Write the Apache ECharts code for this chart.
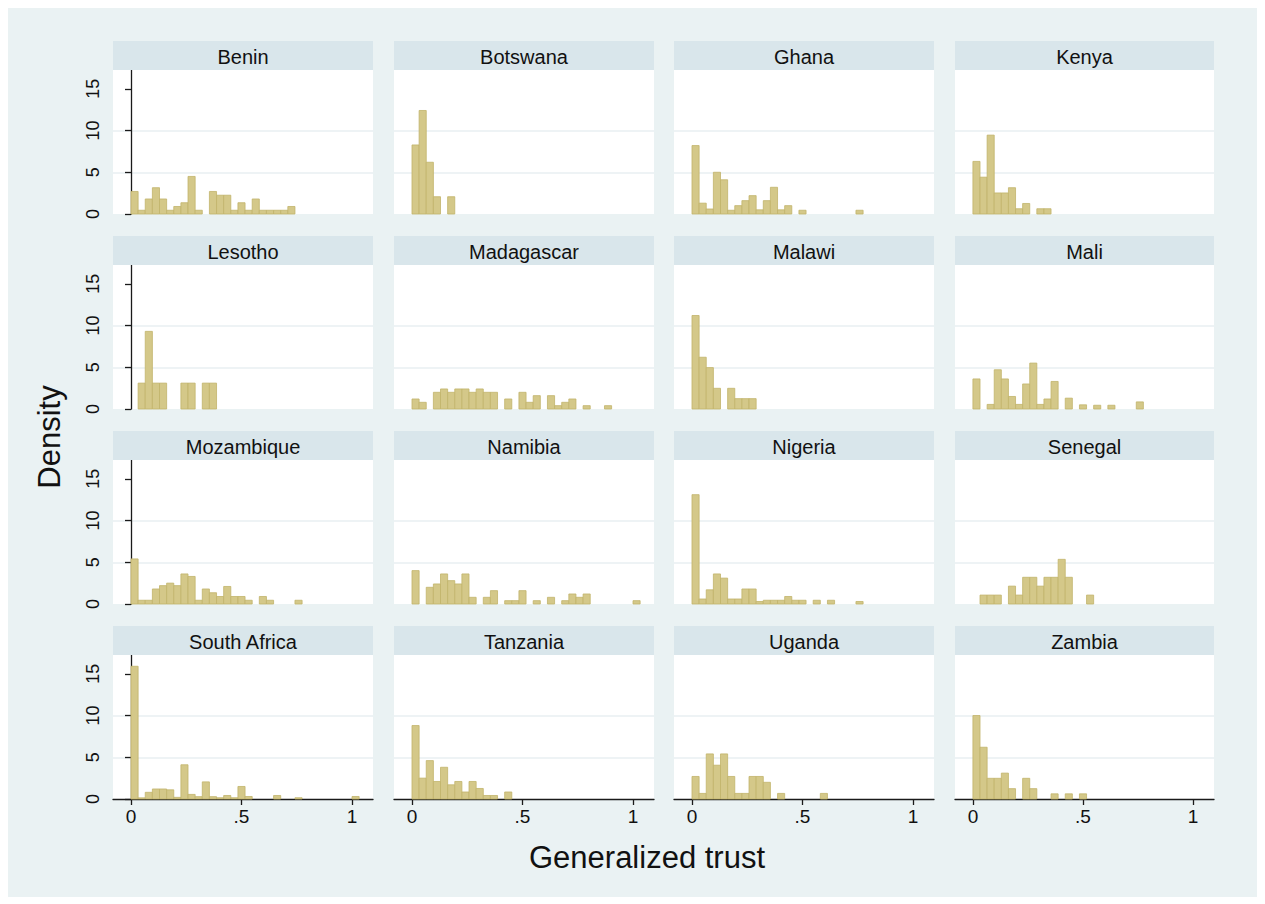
<!DOCTYPE html>
<html>
<head>
<meta charset="utf-8">
<script src="https://cdn.jsdelivr.net/npm/echarts@6/dist/echarts.min.js"></script>
<style>
html,body{margin:0;padding:0;background:#ffffff;}
#chart{width:1265px;height:904px;}
</style>
</head>
<body>
<div id="chart"></div>
<script>
// ---------------- DATA ----------------
// histogram bins: width 1/31, bin k spans [k/31, (k+1)/31]
const binWidth = 1 / 31;
const countries = ["Benin","Botswana","Ghana","Kenya","Lesotho","Madagascar","Malawi","Mali",
                   "Mozambique","Namibia","Nigeria","Senegal","South Africa","Tanzania","Uganda","Zambia"];
const benin       = [2.7,0.45,1.8,3.15,1.8,0.45,0.9,1.35,4.5,0.45,0,2.7,2.25,2.25,0.45,1.35,0.45,1.8,0.45,0.45,0.45,0.45,0.9];
const botswana    = [8.27,12.4,6.2,2.07,0,2.07];
const ghana       = [8.2,1.3,0.6,5.0,4.1,0.45,1.0,1.6,2.2,0.5,1.6,3.2,0.5,1.0,0,0.45,0,0,0,0,0,0,0,0.45];
const kenya       = [6.3,4.41,9.45,2.52,2.52,3.15,0.63,1.26,0,0.63,0.63];
const lesotho     = [0,3.1,9.3,3.1,3.1,0,0,3.1,3.1,0,3.1,3.1];
const madagascar  = [1.2,0.8,0,2.0,2.4,2.0,2.4,2.4,2.0,2.4,2.0,2.0,0,1.2,0,2.0,0.8,1.6,0,1.6,0.4,0.8,1.2,0,0.4,0,0,0.4];
const malawi      = [11.2,6.2,4.96,2.48,0,2.48,1.24,1.24,1.24];
const mali        = [3.6,0,0.55,4.7,3.6,1.5,0.55,3.0,5.5,0.55,1.2,3.3,0,1.3,0,0.5,0,0.45,0,0.45,0,0,0,0.85];
const mozambique  = [5.4,0.45,0.45,1.8,2.2,2.5,2.2,3.6,3.3,0.45,1.8,1.35,0.9,2.1,0.9,0.9,0.45,0,0.9,0.45,0,0,0,0.45];
const namibia     = [4.0,0,2.0,2.4,3.6,2.8,2.4,3.6,0.8,0,0.8,1.6,0,0.4,0.4,1.6,0,0.4,0,0.8,0,0.4,1.2,0.8,1.2,0,0,0,0,0,0,0.4];
const nigeria     = [13.1,0.6,1.7,3.6,3.1,0.6,0.6,1.8,1.8,0.3,0.45,0.45,0.45,0.9,0.45,0.45,0,0.45,0,0.45,0,0,0,0.3];
const senegal     = [0,1.07,1.07,1.07,0,2.14,1.07,3.2,3.2,2.14,3.2,3.2,5.35,3.2,0,0,1.07];
const southAfrica = [15.9,0.14,0.8,1.2,1.2,1.1,0.2,4.1,0.55,0.28,2.05,0.28,0.15,0.42,0.15,1.5,0.3,0,0,0,0.42,0,0,0.15,0,0,0,0,0,0,0,0.3];
const tanzania    = [8.8,2.5,4.6,2.1,3.8,1.7,2.1,0.84,2.1,1.26,0.42,0.42,0,0.84];
const uganda      = [2.7,0.67,5.4,4.05,5.4,2.7,0.67,0.67,2.7,2.7,2.0,0,0.67,0,0,0,0,0,0.67];
const zambia      = [10.0,6.2,2.48,2.48,3.1,1.24,0,2.48,1.24,0,0,0.62,0,0.62,0,0.62];
const densities = [benin,botswana,ghana,kenya,lesotho,madagascar,malawi,mali,
                   mozambique,namibia,nigeria,senegal,southAfrica,tanzania,uganda,zambia];
const xTicks = [0, 0.5, 1];
const xTickLabels = ["0", ".5", "1"];
const yTicks = [0, 5, 10, 15];
const xTitle = "Generalized trust";
const yTitle = "Density";

// ---------------- LAYOUT ----------------
const colLeft = [113, 394, 674, 955];
const colWidth = [260, 260, 260, 259];
const rowStep = 195;
const stripTop0 = 41, stripH = 29, plotTop0 = 70, plotH = 144;
const FONT = "'Liberation Sans', Arial, Helvetica, sans-serif";
const barFill = '#D4C889', barStroke = '#C2B46B';

const chart = echarts.init(document.getElementById('chart'), null, {renderer: 'svg'});

const grids = [], xAxes = [], yAxes = [], series = [];
const graphics = [
  {type: 'rect', shape: {x: 8, y: 8, width: 1249, height: 889}, style: {fill: '#EAF2F3'}, z: -10, silent: true}
];

function renderItem(params, api) {
  const p0 = api.coord([api.value(0), 0]);
  const p1 = api.coord([api.value(2), api.value(1)]);
  return {
    type: 'rect',
    shape: {x: p0[0], y: p1[1], width: p1[0] - p0[0], height: p0[1] - p1[1]},
    style: {fill: barFill, stroke: barStroke, lineWidth: 0.8}
  };
}

countries.forEach((name, i) => {
  const r = Math.floor(i / 4), c = i % 4;
  const top = plotTop0 + r * rowStep;
  grids.push({
    left: colLeft[c], top: top, width: colWidth[c], height: plotH,
    show: true, backgroundColor: '#ffffff', borderWidth: 0, containLabel: false
  });
  graphics.push({
    type: 'rect', shape: {x: colLeft[c], y: stripTop0 + r * rowStep, width: colWidth[c], height: stripH},
    style: {fill: '#D9E6EB'}, silent: true, z: 1
  });
  graphics.push({
    type: 'text', x: colLeft[c] + colWidth[c] / 2, y: stripTop0 + r * rowStep + stripH / 2 + 1,
    style: {text: name, font: '20px ' + FONT, fill: '#111', textAlign: 'center', textVerticalAlign: 'middle'},
    silent: true, z: 2
  });
  const bottomRow = r === 3, leftCol = c === 0;
  xAxes.push({
    type: 'value', gridIndex: i, min: -0.0814, max: 1.095,
    axisLine: {show: bottomRow, onZero: false, lineStyle: {color: '#1a1a1a', width: 1.3}},
    axisTick: {show: bottomRow, customValues: xTicks, length: 6, lineStyle: {color: '#1a1a1a', width: 1.3}},
    axisLabel: {show: bottomRow, customValues: xTicks, margin: 8,
      formatter: v => xTickLabels[xTicks.indexOf(v)] !== undefined ? xTickLabels[xTicks.indexOf(v)] : '',
      color: '#111', fontSize: 19, fontFamily: FONT},
    splitLine: {show: false}
  });
  yAxes.push({
    type: 'value', gridIndex: i, min: 0, max: 17.25, interval: 5,
    axisLine: {show: leftCol, lineStyle: {color: '#1a1a1a', width: 1.3}},
    axisTick: {show: leftCol, customValues: yTicks, length: 6, lineStyle: {color: '#1a1a1a', width: 1.3}},
    axisLabel: {show: leftCol, customValues: yTicks, rotate: 90, margin: 11,
      color: '#111', fontSize: 18, fontFamily: FONT},
    splitLine: {show: true, showMinLine: false, showMaxLine: false, lineStyle: {color: '#E8EFF2', width: 1.6}}
  });
  const data = [];
  densities[i].forEach((h, k) => {
    if (h > 0) data.push([k * binWidth, h, (k + 1) * binWidth]);
  });
  series.push({
    type: 'custom', xAxisIndex: i, yAxisIndex: i, renderItem: renderItem,
    encode: {x: [0, 2], y: 1}, data: data, silent: true, animation: false
  });
});

graphics.push({
  type: 'text', x: 647, y: 857,
  style: {text: xTitle, font: '31px ' + FONT, fill: '#111', textAlign: 'center', textVerticalAlign: 'middle'},
  silent: true, z: 5
});
graphics.push({
  type: 'text', x: 49, y: 437, rotation: Math.PI / 2,
  style: {text: yTitle, font: '31px ' + FONT, fill: '#111', textAlign: 'center', textVerticalAlign: 'middle'},
  silent: true, z: 5
});

chart.setOption({
  animation: false,
  backgroundColor: '#ffffff',
  grid: grids, xAxis: xAxes, yAxis: yAxes, series: series,
  graphic: graphics
});
</script>
</body>
</html>
